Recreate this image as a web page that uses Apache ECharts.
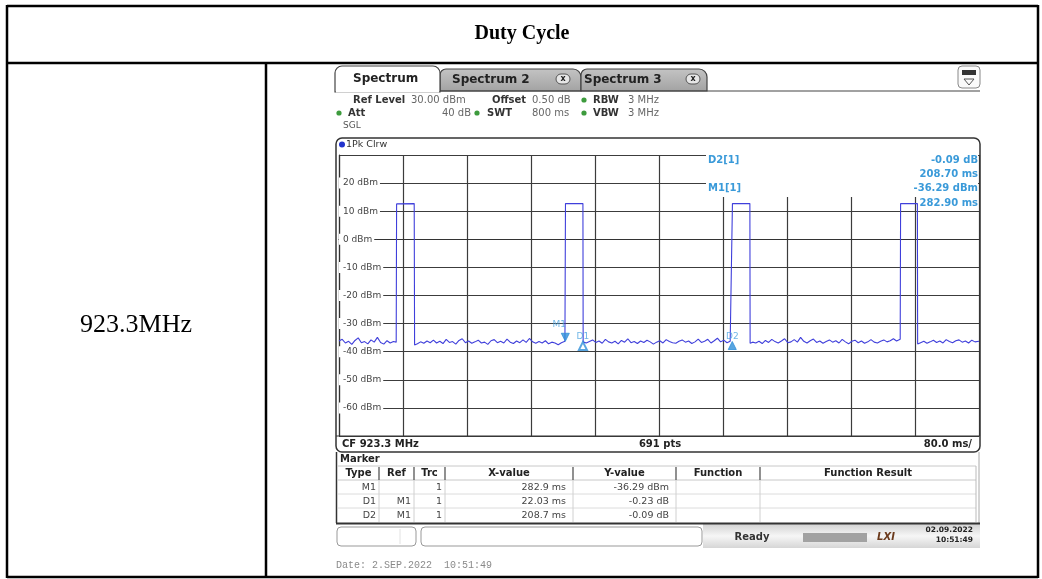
<!DOCTYPE html>
<html><head><meta charset="utf-8">
<script src="https://cdn.jsdelivr.net/npm/echarts@6/dist/echarts.min.js"></script>
<style>html,body{margin:0;padding:0;background:#fff}#c{width:1042px;height:579px}</style>
</head><body><div id="c"></div>
<script>
// ---------------- data ----------------
const titleText = 'Duty Cycle';
const freqLabel = '923.3MHz';
const xMinMs = 0, xMaxMs = 800, xStepMs = 80;
const yMinDbm = -70, yMaxDbm = 30, yStepDb = 10;
// trace: [time ms, level dBm]
const trace = [
 [0,-36.2],[4,-35.6],[8,-36.9],[12,-36.3],[16,-37.4],[20,-36.0],[24,-35.1],[28,-36.8],[32,-36.4],[36,-37.2],
 [40,-35.8],[44,-36.6],[48,-34.9],[52,-36.7],[56,-37.3],[60,-36.1],[64,-36.9],[68,-36.4],[71.5,-36.6],
 [72,12.6],[94,12.7],[94.5,-37.6],
 [98,-37.2],[102,-36.5],[106,-37.0],[110,-36.2],[114,-36.8],[118,-35.9],[122,-36.9],[126,-36.3],[130,-37.1],[134,-35.6],
 [138,-36.7],[142,-36.4],[146,-37.3],[150,-36.0],[154,-35.4],[158,-36.8],[162,-36.2],[166,-37.0],[170,-36.5],[174,-35.9],
 [178,-36.9],[182,-36.6],[186,-37.4],[190,-36.1],[194,-35.7],[198,-36.8],[202,-36.3],[206,-36.9],[210,-35.5],[214,-36.6],
 [218,-37.1],[222,-36.2],[226,-36.8],[230,-35.8],[234,-36.7],[238,-35.3],[242,-36.5],[246,-37.0],[250,-36.4],[254,-36.9],
 [258,-36.1],[262,-37.2],[266,-36.6],[270,-36.9],[274,-37.5],[278,-36.8],[282.4,-36.3],
 [282.9,-36.29],[283.1,12.7],[304.9,12.7],[305.2,-36.5],
 [309,-36.9],[313,-36.4],[317,-35.8],[321,-36.7],[325,-36.2],[329,-37.0],[333,-35.6],[337,-36.5],[341,-36.9],[345,-36.3],
 [349,-37.2],[353,-36.0],[357,-36.6],[361,-35.4],[365,-36.8],[369,-36.4],[373,-37.1],[377,-36.2],[381,-36.7],[385,-35.9],
 [389,-36.5],[393,-37.3],[397,-36.6],[401,-36.1],[405,-36.9],[409,-35.7],[413,-36.4],[417,-36.8],[421,-37.0],[425,-36.3],
 [429,-35.8],[433,-36.6],[437,-36.2],[441,-37.1],[445,-36.5],[449,-35.5],[453,-36.7],[457,-36.3],[461,-35.6],[465,-36.9],
 [469,-36.1],[473,-35.2],[477,-36.5],[481,-35.9],[485,-36.8],[489,-36.3],[491.2,-36.4],
 [491.6,-36.38],[491.8,12.7],[513.6,12.7],[513.9,-37.0],
 [517,-36.6],[521,-36.9],[525,-36.3],[529,-37.1],[533,-36.0],[537,-36.7],[541,-35.6],[545,-36.4],[549,-36.9],[553,-36.2],
 [557,-35.4],[561,-36.8],[565,-36.5],[569,-35.7],[573,-36.6],[577,-34.9],[581,-36.3],[585,-36.9],[589,-36.1],[593,-35.5],
 [597,-36.7],[601,-36.2],[605,-37.0],[609,-36.4],[613,-35.8],[617,-36.6],[621,-36.1],[625,-36.9],[629,-35.6],[633,-36.5],
 [637,-37.2],[641,-36.3],[645,-35.9],[649,-36.8],[653,-36.2],[657,-37.0],[661,-36.5],[665,-35.7],[669,-36.6],[673,-36.9],
 [677,-36.3],[681,-35.8],[685,-36.5],[689,-36.1],[693,-35.4],[697,-36.2],[701.5,-35.6],
 [702,12.7],[723,12.7],[723.3,-37.3],
 [727,-36.8],[731,-36.3],[735,-37.0],[739,-36.5],[743,-35.9],[747,-36.7],[751,-36.2],[755,-36.9],[759,-35.7],[763,-36.4],
 [767,-36.8],[771,-36.1],[775,-35.8],[779,-36.6],[783,-36.2],[787,-36.9],[791,-35.9],[795,-36.5],[800,-36.3]
];
const markerNames = ['M1','D1','D2'];
const markerMs = [282.9, 304.9, 491.6];
const markerDbm = [-36.29, -36.52, -36.38];
const markerInfo = [['D2[1]','-0.09 dB','208.70 ms'],['M1[1]','-36.29 dBm','282.90 ms']];
const markerHeader = ['Type','Ref','Trc','X-value','Y-value','Function','Function Result'];
const markerRows = [
 ['M1','','1','282.9 ms','-36.29 dBm'],
 ['D1','M1','1','22.03 ms','-0.23 dB'],
 ['D2','M1','1','208.7 ms','-0.09 dB']
];
const tabNames = ['Spectrum','Spectrum 2','Spectrum 3'];
const setupRow1 = [['Ref Level','30.00 dBm'],['Offset','0.50 dB'],['RBW','3 MHz']];
const setupRow2 = [['Att','40 dB'],['SWT','800 ms'],['VBW','3 MHz']];
const traceLabel = '1Pk Clrw';
const footer = ['CF 923.3 MHz','691 pts','80.0 ms/'];
const statusText = 'Ready';
const statusDate = ['02.09.2022','10:51:49'];
const dateLine = 'Date: 2.SEP.2022  10:51:49';

// ---------------- helpers ----------------
const SANS = 'DejaVu Sans';
function T(x,y,text,size,o){o=o||{};const f=(o.italic?'italic ':'')+(o.bold?'bold ':'')+size+'px '+(o.family||SANS);
 return {type:'text',x:x,y:y,z:o.z||30,style:{text:text,font:f,fill:o.color||'#333',align:o.align||'left',textAlign:o.align||'left',verticalAlign:'middle',textVerticalAlign:'middle'}};}
function R(x,y,w,h,o){o=o||{};return {type:'rect',z:o.z||10,shape:{x:x,y:y,width:w,height:h,r:o.r||0},style:{fill:o.fill||'none',stroke:o.stroke||null,lineWidth:o.lw||1}};}
function L(x1,y1,x2,y2,c,lw,z){return {type:'line',z:z||12,shape:{x1:x1,y1:y1,x2:x2,y2:y2},style:{stroke:c,lineWidth:lw||1}};}
function C(cx,cy,r,fill,stroke,z){return {type:'circle',z:z||15,shape:{cx:cx,cy:cy,r:r},style:{fill:fill,stroke:stroke||null,lineWidth:1}};}
function grad(stops){return {type:'linear',x:0,y:0,x2:0,y2:1,colorStops:stops.map((c,i)=>({offset:i/(stops.length-1),color:c}))};}

const G = [];
// outer table
G.push(L(7,6,1038,6,'#000',2.5));
G.push(L(7,63,1038,63,'#000',2.5));
G.push(L(7,577,1038,577,'#000',2.5));
G.push(L(7,5,7,578,'#000',2.5));
G.push(L(1038,5,1038,578,'#000',2.5));
G.push(L(266,63,266,578,'#000',2.5));
G.push(T(522,34,titleText,20,{bold:true,family:'Liberation Serif',color:'#000',align:'center'}));
G.push(T(136,325,freqLabel,26,{family:'Liberation Serif',color:'#000',align:'center'}));

// tabs
G.push(R(440,69,141,22,{r:[6,8,0,0],fill:grad(['#c4c4c4','#a2a2a2']),stroke:'#444',lw:1.2}));
G.push(R(581,69,126,22,{r:[6,8,0,0],fill:grad(['#c4c4c4','#a2a2a2']),stroke:'#444',lw:1.2}));
G.push(R(335,66,105,26,{r:[7,7,0,0],fill:'#fff',stroke:'#444',lw:1.2,z:11}));
G.push(L(336,91.5,439,91.5,'#fff',2,12));
G.push(L(440,91,980,91,'#444',1.2,12));
G.push(T(353,79,tabNames[0],12,{bold:true,color:'#222'}));
G.push(T(452,80,tabNames[1],12,{bold:true,color:'#222'}));
G.push(T(584,80,tabNames[2],12,{bold:true,color:'#222'}));
[563,693].forEach(cx=>{G.push(R(cx-7,74,14,10,{r:5,fill:'#e6e6e6',stroke:'#555',lw:1,z:14}));G.push(T(cx,78.5,'x',8,{bold:true,color:'#222',align:'center'}));});
// top-right icon
G.push(R(958,66,22,22,{r:4,fill:'#fafafa',stroke:'#888',lw:1}));
G.push(R(962,70,14,5,{fill:'#333',z:14}));
G.push({type:'polygon',z:14,shape:{points:[[964,79],[974,79],[969,85]]},style:{fill:'none',stroke:'#555',lineWidth:1}});

// setup info
G.push(T(353,100,setupRow1[0][0],10,{bold:true,color:'#333'}));
G.push(T(411,100,setupRow1[0][1],10,{color:'#666'}));
G.push(T(492,100,setupRow1[1][0],10,{bold:true,color:'#333'}));
G.push(T(532,100,setupRow1[1][1],10,{color:'#666'}));
G.push(C(584,100,2.6,'#3d9b3d'));
G.push(T(593,100,setupRow1[2][0],10,{bold:true,color:'#333'}));
G.push(T(628,100,setupRow1[2][1],10,{color:'#666'}));
G.push(C(339,113,2.6,'#3d9b3d'));
G.push(T(348,113,setupRow2[0][0],10,{bold:true,color:'#333'}));
G.push(T(471,113,setupRow2[0][1],10,{color:'#666',align:'right'}));
G.push(C(477,113,2.6,'#3d9b3d'));
G.push(T(487,113,setupRow2[1][0],10,{bold:true,color:'#333'}));
G.push(T(532,113,setupRow2[1][1],10,{color:'#666'}));
G.push(C(584,113,2.6,'#3d9b3d'));
G.push(T(593,113,setupRow2[2][0],10,{bold:true,color:'#333'}));
G.push(T(628,113,setupRow2[2][1],10,{color:'#666'}));
G.push(T(343,126,'SGL',9,{color:'#555'}));

// plot panel
G.push(R(336,138,644,314,{r:6,stroke:'#333',lw:1.5,z:12}));
G.push(C(342,144.5,3,'#2233cc'));
G.push(T(346,144.5,traceLabel,9.5,{color:'#333'}));
G.push(L(336,436,980,436,'#333',1.2,12));
G.push(T(342,444,footer[0],10,{bold:true,color:'#222'}));
G.push(T(660,444,footer[1],10,{bold:true,color:'#222',align:'center'}));
G.push(T(972,444,footer[2],10,{bold:true,color:'#222',align:'right'}));
// marker info overlay
G.push(R(706,153,272,44,{fill:'#fff',z:9}));
markerInfo.forEach((m,i)=>{const y0=160+i*28.5;
 G.push(T(708,y0,m[0],10,{bold:true,color:'#3a9ad9'}));
 G.push(T(978,y0,m[1],10,{bold:true,color:'#3a9ad9',align:'right'}));
 G.push(T(978,y0+14.5,m[2],10,{bold:true,color:'#3a9ad9',align:'right'}));
});

// marker table
G.push(L(336.5,452,336.5,523,'#333',1.5));
G.push(L(979,452,979,523,'#aaa',1));
G.push(T(340,459,'Marker',10,{bold:true,color:'#222'}));
const colX=[338,379,414,445,573,676,760,976];
[466,480].forEach(y=>G.push(L(338,y,976,y,'#c8c8c8',1)));
[494,508].forEach(y=>G.push(L(338,y,976,y,'#dcdcdc',1)));
colX.slice(1,7).forEach(x=>{G.push(L(x,467,x,480,'#555',1.3));G.push(L(x,480,x,522,'#d0d0d0',1));});
G.push(L(976,466,976,522,'#bbb',1));
markerHeader.forEach((h,i)=>G.push(T((colX[i]+colX[i+1])/2,473.5,h,10,{bold:true,color:'#222',align:'center'})));
const rightX=[376,411,442,566,669];
markerRows.forEach((r,j)=>r.forEach((v,i)=>{ if(v) G.push(T(rightX[i],487.5+j*14,v,9.5,{color:'#444',align:'right'})); }));

// status bar
G.push(R(703,524,277,24,{fill:grad(['#d2d2d2','#f6f6f6','#d6d6d6'])}));
G.push(L(336,523.5,980,523.5,'#333',2));
G.push(R(337,527,79,19,{r:4,fill:'#fff',stroke:'#999',lw:1}));
G.push(L(400,529,400,544,'#e2e2e2',1));
G.push(R(421,527,281,19,{r:4,fill:'#fff',stroke:'#999',lw:1}));
G.push(T(752,537,statusText,10,{bold:true,color:'#333',align:'center'}));
G.push(R(803,533,64,9,{fill:'#a2a2a2',z:11}));
G.push(T(886,537,'LXI',10,{bold:true,italic:true,color:'#6b3a1c',align:'center'}));
G.push(T(973,530.5,statusDate[0],7.5,{bold:true,color:'#222',align:'right'}));
G.push(T(973,540.5,statusDate[1],7.5,{bold:true,color:'#222',align:'right'}));
G.push(T(336,565,dateLine,10,{family:'Liberation Mono',color:'#8a8a8a'}));

// ---------------- chart ----------------
const chart = echarts.init(document.getElementById('c'));
const markerData = markerNames.map((n,i)=>({
  name:n, value:[markerMs[i],markerDbm[i]],
  symbol: n==='D1'?'emptyTriangle':'triangle',
  symbolRotate: n==='M1'?180:0,
  symbolOffset: n==='M1'?[0,-4]:[0,4],
  label:{offset: n==='M1'?[-6,-2]:[0,2]}
}));
chart.setOption({
  animation:false,
  backgroundColor:'#fff',
  grid:{left:339,right:63,top:155,bottom:143,containLabel:false},
  xAxis:{type:'value',min:xMinMs,max:xMaxMs,interval:xStepMs,
    axisLine:{show:true,lineStyle:{color:'#333',width:1.2}},axisTick:{show:false},axisLabel:{show:false},
    splitLine:{show:true,lineStyle:{color:'#3c3c3c',width:1.2}}},
  yAxis:{type:'value',min:yMinDbm,max:yMaxDbm,interval:yStepDb,
    axisLine:{show:true,lineStyle:{color:'#333',width:1.2}},axisTick:{show:false},
    axisLabel:{inside:true,margin:0,fontSize:9,fontFamily:SANS,color:'#444',backgroundColor:'#fff',padding:[1,2,1,4],
      showMinLabel:false,showMaxLabel:false,formatter:v=>v+' dBm'},
    splitLine:{show:true,lineStyle:{color:'#3c3c3c',width:1.2}}},
  series:[
    {type:'line',data:trace,showSymbol:false,symbol:'none',z:3,lineStyle:{color:'#3f3fdb',width:1.1}},
    {type:'scatter',data:markerData,symbolSize:[8,8],z:5,
      itemStyle:{color:'#2f8fd8',borderColor:'#2f8fd8'},
      label:{show:true,position:'top',distance:2,formatter:p=>p.name,fontSize:9,fontFamily:SANS,color:'#4aa3e0'}}
  ],
  graphic:{elements:G}
});
</script></body></html>
